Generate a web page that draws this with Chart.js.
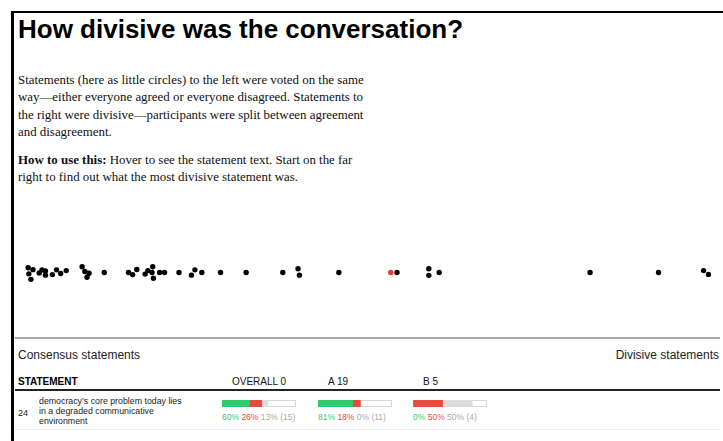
<!DOCTYPE html>
<html>
<head>
<meta charset="utf-8">
<script src="https://cdn.jsdelivr.net/npm/chart.js@4"></script>
<style>
  body { margin: 0; background: #fff; width: 723px; height: 441px; overflow: hidden; position: relative; }
  .abs { position: absolute; white-space: nowrap; }
  .frame { position: absolute; left: 11px; top: 11px; width: 800px; height: 500px; border-top: 2px solid #000; border-left: 3px solid #000; }
  h1 { position: absolute; left: 18px; top: 16px; margin: 0; font: bold 26px/26px "Liberation Sans", Arial, sans-serif; color: #000; }
  .intro { position: absolute; left: 18px; margin: 0; font: 12.9px/17.4px "Liberation Serif", Georgia, serif; color: #111; white-space: nowrap; }
  .sans { font-family: "Liberation Sans", Arial, sans-serif; color: #222; }
  .rule { position: absolute; left: 15px; width: 705px; }
  .barbox { position: absolute; top: 400px; width: 72px; height: 5px; border: 1px solid #d8d8d8; background: #fff; }
  .barcv { position: absolute; top: 400px; }
  .pct { position: absolute; top: 412px; font: 8.5px/10px "Liberation Sans", Arial, sans-serif; white-space: nowrap; }
  .g { color: #2ecc71; } .r { color: #e74c3c; } .p { color: #aaa; }
</style>
</head>
<body>
<div class="frame"></div>
<h1>How divisive was the conversation?</h1>
<p class="intro" style="top:72px">Statements (here as little circles) to the left were voted on the same<br>way—either everyone agreed or everyone disagreed. Statements to<br>the right were divisive—participants were split between agreement<br>and disagreement.</p>
<p class="intro" style="top:152px"><b>How to use this:</b> Hover to see the statement text. Start on the far<br>right to find out what the most divisive statement was.</p>

<canvas id="strip" width="700" height="45" style="position:absolute;left:20px;top:250px"></canvas>

<div class="rule" style="top:337px;height:2px;background:#aaa"></div>
<div class="abs sans" style="left:18px;top:348px;font-size:12px;line-height:14px">Consensus statements</div>
<div class="abs sans" style="right:4px;top:348px;font-size:12px;line-height:14px">Divisive statements</div>

<div class="abs sans" style="left:18px;top:376px;font-size:10px;line-height:12px;font-weight:bold;color:#000">STATEMENT</div>
<div id="heads"></div>
<div class="rule" style="top:389px;height:2px;background:#222"></div>

<div class="abs sans" style="left:18px;top:408px;font-size:9px;line-height:10px">24</div>
<div class="abs sans" style="left:39px;top:396px;font-size:8.8px;line-height:10px">democracy’s core problem today lies<br>in a degraded communicative<br>environment</div>
<div id="cells"></div>
<div class="rule" style="top:429px;height:1px;background:#eee"></div>

<script>
// ---statements strip--- (divisiveness 0..100, lane = vertical offset of the swarm)
var divisiveness = [0.6, 1.3, 0.7, 1.0, 2.2, 2.6, 3.1, 3.1, 4.1, 4.7, 5.3, 6.1,
  8.4, 8.8, 9.4, 9.1, 11.6, 15.1, 15.7, 16.3, 17.5, 17.9, 18.6, 18.5, 18.7,
  19.6, 20.3, 22.4, 24.2, 24.7, 25.7, 28.4, 32.1, 37.4, 39.6, 39.8, 45.5,
  53.0, 53.9, 58.5, 58.5, 60.0, 81.8, 91.7, 98.2, 98.9];
var lane = [4.5, 2.7, -1.3, -6.5, -0.5, 2.5, 1.5, -2.5, -2, 2.5, -1, 1.8,
  5.5, 1, -0.7, -4.5, 0, 0, -2, 2.8, -1.5, 1.8, 5.5, 0, -5.5,
  0, 0, 0, -2.5, 2.5, 0, 0, 0, 0, 3.5, -2.5, 0,
  0, 0, 3.5, -2.7, 0, 0, 0, 1.8, -1.8];
var selected = 37;

var points = divisiveness.map((d, i) => ({x: d, y: lane[i]}));
var colors = divisiveness.map((d, i) => i == selected ? 'rgb(231, 60, 40)' : '#000');

var stripctx = document.getElementById('strip').getContext('2d');
var stripchart = new Chart(stripctx, {
  type: 'scatter',
  data: {
    datasets: [{
      data: points,
      pointRadius: 2.7,
      pointBorderWidth: 0,
      pointBackgroundColor: colors,
      clip: false
    }]
  },
  options: {
    responsive: false,
    devicePixelRatio: 1,
    animation: false,
    layout: { padding: 0 },
    scales: {
      x: { display: false, min: 0, max: 100 },
      y: { display: false, min: -17.5, max: 17.5 }
    },
    plugins: { legend: { display: false }, tooltip: { enabled: false } }
  }
});

// ---vote bars---
var groups = ['OVERALL 0', 'A 19', 'B 5'];
var members = [24, 19, 5];
var votes = [15, 11, 4];
var agree = [60, 81, 0];
var disagree = [26, 18, 50];
var pass = [13, 0, 50];
var colLeft = [222, 318, 413];

var heads = document.getElementById('heads');
var cells = document.getElementById('cells');
groups.forEach(function(g, i) {
  heads.insertAdjacentHTML('beforeend',
    '<div class="abs sans" style="left:' + (colLeft[i] + 10) + 'px;top:376px;font-size:10px;line-height:12px;color:#111">' + g + '</div>');
  cells.insertAdjacentHTML('beforeend',
    '<div class="barbox" style="left:' + colLeft[i] + 'px"></div>' +
    '<canvas class="barcv" id="bar' + i + '" width="74" height="7" style="left:' + colLeft[i] + 'px"></canvas>' +
    '<div class="pct" style="left:' + colLeft[i] + 'px"><span class="g">' + agree[i] + '%</span> <span class="r">' + disagree[i] +
    '%</span> <span class="p">' + pass[i] + '% (' + votes[i] + ')</span></div>');

  // share of the whole group who voted each way
  var share = v => v * votes[i] / members[i];
  new Chart(document.getElementById('bar' + i).getContext('2d'), {
    type: 'bar',
    data: {
      labels: [''],
      datasets: [
        { data: [share(agree[i])], backgroundColor: '#2ecc71' },
        { data: [share(disagree[i])], backgroundColor: '#e74c3c' },
        { data: [share(pass[i])], backgroundColor: '#dcdcdc' }
      ]
    },
    options: {
      indexAxis: 'y',
      responsive: false,
      devicePixelRatio: 1,
      animation: false,
      layout: { padding: 0 },
      datasets: { bar: { barPercentage: 1, categoryPercentage: 1, borderWidth: 0 } },
      scales: {
        x: { display: false, stacked: true, min: 0, max: 100 },
        y: { display: false, stacked: true }
      },
      plugins: { legend: { display: false }, tooltip: { enabled: false } }
    }
  });
});
</script>
</body>
</html>
